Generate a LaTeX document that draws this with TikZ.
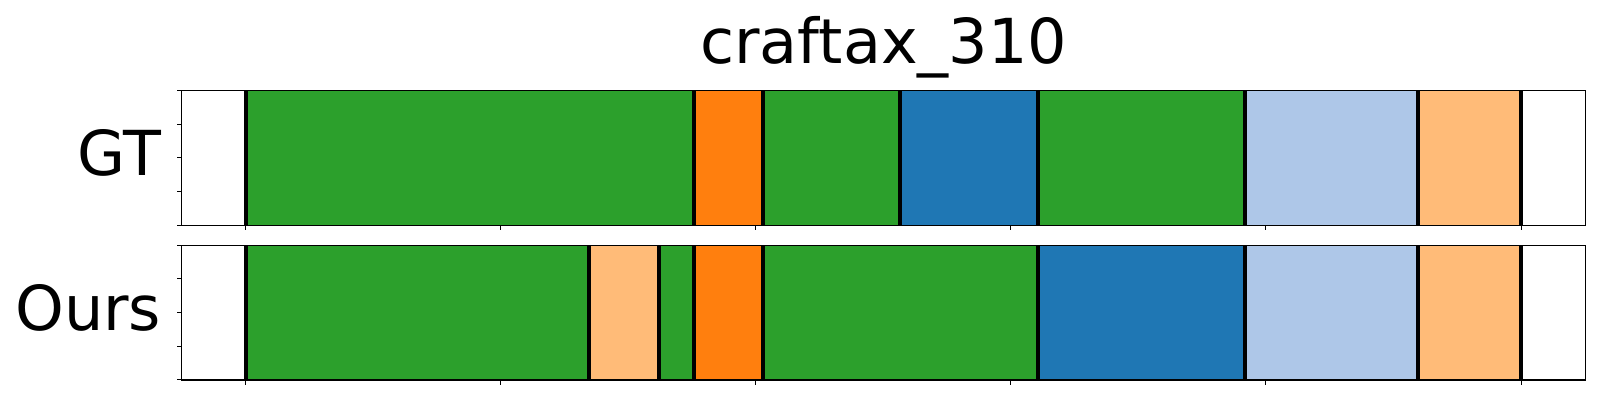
\documentclass[tikz,border=0pt]{standalone}
\usepackage{fontspec}
\setmainfont{DejaVu Sans}
\definecolor{tgreen}{HTML}{2CA02C}
\definecolor{torange}{HTML}{FF7F0E}
\definecolor{tblue}{HTML}{1F77B4}
\definecolor{tlblue}{HTML}{AEC7E8}
\definecolor{tlorange}{HTML}{FFBB78}
\tikzset{
  spine/.style={draw=black, line width=0.55pt},
  tickmark/.style={draw=black, line width=0.5pt},
  bound/.style={draw=black, line width=2pt},
  lbl/.style={font=\fontsize{31}{37}\selectfont, inner sep=0pt},
}
\begin{document}
\begin{tikzpicture}[x=0.5pt, y=-0.5pt]
\useasboundingbox (0,0) rectangle (1600,400);
\fill[white] (0,0) rectangle (1600,400);
% GT segments
\foreach \a/\b/\c in {245.7/694/tgreen, 694/762.7/torange, 762.7/900/tgreen, 900/1037.7/tblue, 1037.7/1245/tgreen, 1245/1417.7/tlblue, 1417.7/1521/tlorange}
  \fill[\c] (\a,90.3) rectangle (\b,225.3);
\foreach \x in {245.7, 694, 762.7, 900, 1037.7, 1245, 1417.7, 1521}
  \draw[bound] (\x,90.3) -- (\x,225.3);
% Ours segments
\foreach \a/\b/\c in {245.7/589.3/tgreen, 589.3/659/tlorange, 659/694/tgreen, 694/762.7/torange, 762.7/1037.7/tgreen, 1037.7/1245/tblue, 1245/1417.7/tlblue, 1417.7/1521/tlorange}
  \fill[\c] (\a,245.3) rectangle (\b,380);
\foreach \x in {245.7, 589.3, 659, 694, 762.7, 1037.7, 1245, 1417.7, 1521}
  \draw[bound] (\x,245.3) -- (\x,380);
% axes frames
\draw[spine] (181.7,90.3) rectangle (1585.7,225.3);
\draw[spine] (181.7,245.3) rectangle (1585.7,380);
% ticks
\foreach \k in {0,...,5} {
  \draw[tickmark] ({245.7+255.06*\k},225.3) -- ++(0,5);
  \draw[tickmark] ({245.7+255.06*\k},380) -- ++(0,5);
}
\foreach \k in {0,...,4} {
  \draw[tickmark] (181.7,{90.3+33.75*\k}) -- ++(-5,0);
  \draw[tickmark] (181.7,{245.3+33.675*\k}) -- ++(-5,0);
}
% labels
\node[lbl, anchor=base] (title) at (883.7,63.3) {craftax\_310};
\node[lbl, anchor=base east] (gt) at (161.5,175.5) {GT};
\node[lbl, anchor=base east] (ours) at (161.5,331) {Ours};
\end{tikzpicture}
\end{document}
